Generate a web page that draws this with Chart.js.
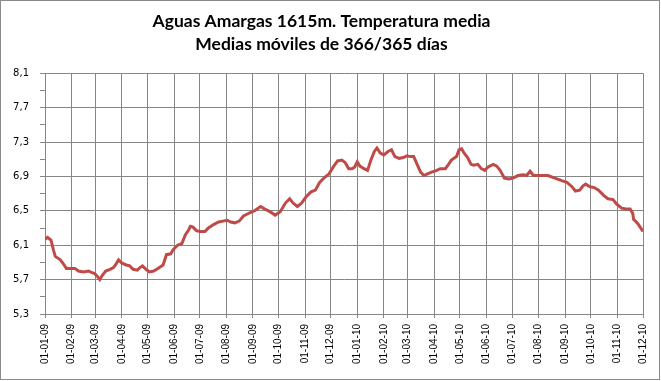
<!DOCTYPE html>
<html><head><meta charset="utf-8">
<script src="https://cdn.jsdelivr.net/npm/chart.js@4"></script>
<style>html,body{margin:0;padding:0;background:#fff}#wrap{width:661px;height:381px}</style>
</head><body><div id="wrap"><canvas id="c" width="661" height="381"></canvas></div>
<script>
// days since 01-01-09
const days = [0,3,7,10,12,18,21,25,31,35,39,45,51,55,58,61,64,67,71,76,80,83,86,90,95,99,103,108,111,114,118,122,127,132,138,142,147,150,155,160,164,168,170,173,177,181,187,191,197,203,208,213,217,222,227,232,236,240,245,252,257,263,269,275,281,286,290,295,300,305,311,316,321,327,332,337,342,347,351,355,359,362,365,368,373,377,381,385,388,392,396,401,405,409,414,419,423,427,431,435,439,443,447,452,458,462,468,471,475,481,484,487,490,494,498,501,506,510,514,518,524,528,532,537,542,547,553,559,563,567,571,577,582,588,596,604,610,616,620,625,629,632,637,642,647,653,658,664,668,674,679,684,687,688,693,699];
const temps = [6.17,6.19,6.16,6.04,5.97,5.93,5.89,5.83,5.83,5.83,5.80,5.79,5.80,5.78,5.77,5.74,5.70,5.75,5.80,5.82,5.84,5.88,5.93,5.89,5.87,5.86,5.82,5.81,5.84,5.86,5.82,5.79,5.80,5.83,5.87,5.99,6.00,6.05,6.10,6.12,6.22,6.28,6.32,6.31,6.27,6.26,6.26,6.30,6.34,6.37,6.38,6.39,6.37,6.36,6.38,6.44,6.46,6.48,6.50,6.55,6.52,6.49,6.45,6.49,6.59,6.64,6.59,6.55,6.59,6.66,6.72,6.74,6.83,6.89,6.93,7.01,7.08,7.09,7.06,6.99,6.99,7.01,7.07,7.02,6.99,6.97,7.09,7.19,7.23,7.17,7.15,7.19,7.21,7.13,7.11,7.12,7.14,7.13,7.13,7.04,6.95,6.91,6.93,6.95,6.97,6.99,6.99,7.03,7.09,7.13,7.21,7.22,7.17,7.12,7.04,7.03,7.04,6.99,6.97,7.01,7.04,7.02,6.97,6.88,6.87,6.88,6.91,6.92,6.91,6.96,6.91,6.91,6.91,6.91,6.88,6.85,6.83,6.78,6.73,6.74,6.79,6.81,6.78,6.77,6.74,6.68,6.64,6.63,6.58,6.53,6.52,6.52,6.47,6.40,6.35,6.26];
const monthTickDays = [0,31,59,90,120,151,181,212,243,273,304,334,365,396,424,455,485,516,546,577,608,638,669,699];
const monthTickLabels = ['01-01-09','01-02-09','01-03-09','01-04-09','01-05-09','01-06-09','01-07-09','01-08-09','01-09-09','01-10-09','01-11-09','01-12-09','01-01-10','01-02-10','01-03-10','01-04-10','01-05-10','01-06-10','01-07-10','01-08-10','01-09-10','01-10-10','01-11-10','01-12-10'];
const yTickValues = [5.3,5.5,5.7,5.9,6.1,6.3,6.5,6.7,6.9,7.1,7.3,7.5,7.7,7.9,8.1];
const titleLines = ['Aguas Amargas 1615m. Temperatura media','Medias móviles de 366/365 días'];

const GRID = '#868686';
const frame = {
  id:'frame',
  beforeDraw(chart){const c=chart.ctx;c.save();c.fillStyle='#fff';c.fillRect(0,0,chart.width,chart.height);c.restore();},
  afterDraw(chart){const c=chart.ctx;c.save();c.strokeStyle='#8a8a8a';c.lineWidth=1;c.strokeRect(0.5,0.5,chart.width-2,chart.height-2);c.restore();}
};

new Chart(document.getElementById('c'), {
  type:'line',
  data:{datasets:[{
    data: days.map((d,i)=>({x:d,y:temps[i]})),
    borderColor:'#BE4B48', borderWidth:3, pointRadius:0, tension:0, fill:false
  }]},
  options:{
    responsive:false, animation:false, devicePixelRatio:1,
    layout:{padding:{left:0,right:18,top:0,bottom:0}},
    plugins:{
      legend:{display:false}, tooltip:{enabled:false},
      title:{display:true, text:titleLines, color:'#000',
        font:{family:'Lato', weight:'bold', size:17.5, lineHeight:1.32},
        padding:{top:10,bottom:17}}
    },
    scales:{
      x:{type:'linear', min:0, max:699,
        afterBuildTicks(s){s.ticks = monthTickDays.map(v=>({value:v}));},
        afterFit(s){s.height = 67;},
        ticks:{autoSkip:false, minRotation:90, maxRotation:90, padding:6, color:'#000',
          font:{family:'Liberation Sans', size:10},
          callback(v){const i=monthTickDays.indexOf(v); return i>=0?monthTickLabels[i]:'';}},
        grid:{color:GRID, lineWidth:1, tickLength:4, tickColor:GRID},
        border:{color:GRID, width:1}
      },
      y:{type:'linear', min:5.3, max:8.1,
        afterBuildTicks(s){s.ticks = yTickValues.map(v=>({value:v}));},
        afterFit(s){s.width = 45;},
        ticks:{autoSkip:false, padding:11, color:'#000',
          font:{family:'DejaVu Sans', size:10},
          callback(v){const i=yTickValues.indexOf(v); return (i%2===0)?v.toFixed(1).replace('.',','):'';}},
        grid:{color:(ctx)=>ctx.index%2===0?GRID:'rgba(0,0,0,0)', lineWidth:1, tickLength:5, tickColor:GRID},
        border:{color:GRID, width:1}
      }
    }
  },
  plugins:[frame]
});
</script></body></html>
